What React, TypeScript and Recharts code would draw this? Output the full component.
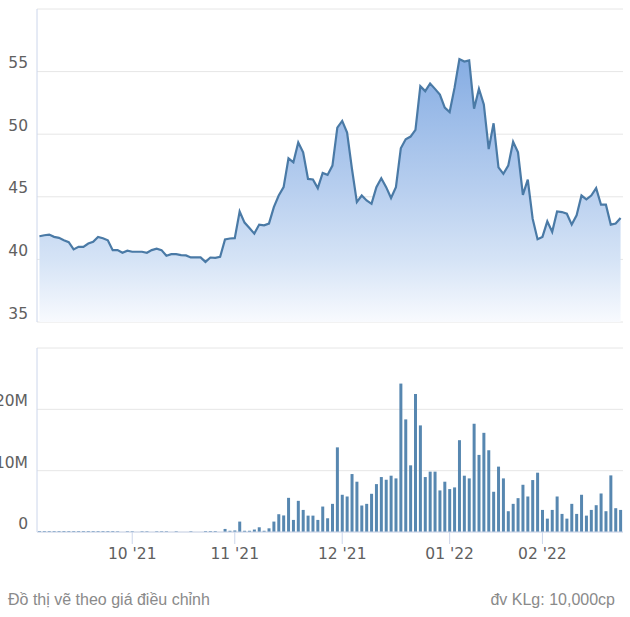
import React from 'react';
import { AreaChart, Area, BarChart, Bar, XAxis, YAxis, CartesianGrid } from 'recharts';

const prices: number[] = [
  41.85, 41.93, 41.98, 41.8, 41.72, 41.53, 41.37, 40.8, 41.0, 41.0,
  41.27, 41.4, 41.8, 41.69, 41.53, 40.74, 40.74, 40.53, 40.69, 40.61,
  40.61, 40.61, 40.53, 40.74, 40.85, 40.74, 40.29, 40.42, 40.42, 40.34,
  40.32, 40.16, 40.16, 40.16, 39.8, 40.15, 40.13, 40.2, 41.59, 41.67,
  41.7, 43.83, 42.94, 42.5, 42.06, 42.78, 42.72, 42.86, 44.18, 45.1,
  45.77, 48.07, 47.75, 49.34, 48.55, 46.43, 46.38, 45.69, 46.9, 46.75,
  47.49, 50.53, 51.06, 50.13, 47.22, 44.58, 45.1, 44.71, 44.44, 45.77,
  46.48, 45.77, 44.9, 45.77, 48.87, 49.6, 49.81, 50.34, 53.83, 53.44,
  54.05, 53.62, 53.17, 52.12, 51.77, 53.7, 56.0, 55.8, 55.9, 52.04,
  53.62, 52.38, 48.81, 50.87, 47.35, 46.83, 47.49, 49.39, 48.55, 45.16,
  46.37, 43.25, 41.61, 41.8, 43.04, 42.2, 43.83, 43.78, 43.65, 42.78,
  43.52, 45.1, 44.79, 45.1, 45.69, 44.37, 44.37, 42.78, 42.86, 43.31,
];

// volume in millions
const volumes: number[] = [
  0.15, 0.15, 0.15, 0.15, 0.15, 0.15, 0.15, 0.15, 0.15, 0.15,
  0.15, 0.15, 0.15, 0.15, 0.15, 0.15, 0.12, 0, 0.12, 0.12,
  0, 0.12, 0.12, 0, 0.12, 0.12, 0.12, 0, 0.12, 0,
  0, 0.12, 0, 0, 0.15, 0.15, 0.15, 0, 0.5, 0.2,
  0.25, 1.7, 0.2, 0.2, 0.4, 0.77, 0.2, 0.6, 1.7, 2.9,
  2.7, 5.57, 1.97, 5.08, 3.6, 2.67, 2.67, 1.97, 4.15, 2.24,
  4.59, 13.8, 6.07, 5.79, 9.45, 8.2, 4.32, 4.59, 6.23, 7.81,
  8.96, 8.52, 9.18, 8.74, 24.2, 18.36, 10.87, 22.5, 17.38, 8.96,
  9.84, 9.84, 6.78, 8.2, 7.0, 7.27, 14.97, 9.18, 8.74, 17.65,
  12.57, 16.17, 13.33, 6.56, 10.66, 8.74, 3.39, 4.59, 5.52, 7.7,
  5.79, 8.47, 9.67, 3.6, 2.18, 3.6, 5.79, 2.95, 2.18, 4.59,
  2.95, 6.07, 2.67, 3.6, 4.37, 6.28, 3.39, 9.23, 3.88, 3.6,
];

const categories: number[] = prices.map((_, i) => i);
const monthTickIdx: number[] = [19, 40, 62, 84, 103];
const monthTickLabels: string[] = ["10 '21", "11 '21", "12 '21", "01 '22", "02 '22"];
const priceTicks: number[] = [35, 40, 45, 50, 55, 60];
const volTicks: number[] = [0, 10, 20, 30];

const data = categories.map((c, i) => ({ idx: c, price: prices[i], vol: volumes[i] }));

const W = 630;
const LEFT = 37;
const RIGHT = 7;
const plotW = W - LEFT - RIGHT;
const pad = plotW / (2 * data.length);

const AXIS_FONT = '"DejaVu Sans", Verdana, sans-serif';
const AXIS_COLOR = '#606060';
const LINE_COLOR = '#ccd6eb';

const PriceTick = (props: any) => {
  const { x, y, payload } = props;
  if (payload.value === 60) return <g />;
  return (
    <text x={x} y={y - 3.5} textAnchor="end" fill={AXIS_COLOR} fontSize={15.5} fontFamily={AXIS_FONT}>
      {String(payload.value)}
    </text>
  );
};

const VolTick = (props: any) => {
  const { x, y, payload } = props;
  if (payload.value === 30) return <g />;
  const label = payload.value === 0 ? '0' : `${payload.value}M`;
  return (
    <text x={x} y={y - 3} textAnchor="end" fill={AXIS_COLOR} fontSize={15.5} fontFamily={AXIS_FONT}>
      {label}
    </text>
  );
};

const MonthTick = (props: any) => {
  const { x, y, payload } = props;
  const k = monthTickIdx.indexOf(payload.value);
  return (
    <text x={x} y={y} dy={11} textAnchor="middle" fill={AXIS_COLOR} fontSize={15.5} fontFamily={AXIS_FONT}>
      {k >= 0 ? monthTickLabels[k] : ''}
    </text>
  );
};

export default function App() {
  return (
    <div style={{ position: 'absolute', left: 0, top: 0, width: 630, height: 617, background: '#fff', overflow: 'hidden' }}>
      <div style={{ position: 'absolute', left: 0, top: 0 }}>
        <AreaChart width={630} height={330} data={data} margin={{ top: 9, right: RIGHT, bottom: 8, left: 0 }}>
          <defs>
            <linearGradient id="priceFill" x1="0" y1="0" x2="0" y2="1">
              <stop offset="0%" stopColor="#86ade3" />
              <stop offset="50%" stopColor="#b8cfef" />
              <stop offset="77%" stopColor="#d6e4f6" />
              <stop offset="100%" stopColor="#f8fafe" />
            </linearGradient>
          </defs>
          <CartesianGrid vertical={false} stroke="#e6e6e6" />
          <XAxis dataKey="idx" hide padding={{ left: pad, right: pad }} />
          <YAxis
            domain={[35, 60]}
            ticks={priceTicks}
            interval={0}
            width={LEFT}
            tickSize={0}
            tickMargin={9}
            tickLine={false}
            axisLine={{ stroke: LINE_COLOR }}
            tick={<PriceTick />}
            allowDataOverflow
          />
          <Area
            type="linear"
            dataKey="price"
            stroke="#4a7aa6"
            strokeWidth={2.2}
            fill="url(#priceFill)"
            fillOpacity={1}
            dot={false}
            activeDot={false}
            isAnimationActive={false}
          />
        </AreaChart>
      </div>
      <div style={{ position: 'absolute', left: 0, top: 340 }}>
        <BarChart width={630} height={240} data={data} margin={{ top: 8, right: RIGHT, bottom: 0, left: 0 }} barCategoryGap={0}>
          <CartesianGrid vertical={false} stroke="#e6e6e6" />
          <XAxis
            dataKey="idx"
            ticks={monthTickIdx}
            interval={0}
            height={48}
            tickSize={12}
            tickMargin={4}
            tickLine={{ stroke: LINE_COLOR }}
            axisLine={{ stroke: LINE_COLOR }}
            tick={<MonthTick />}
          />
          <YAxis
            domain={[0, 30]}
            ticks={volTicks}
            interval={0}
            width={LEFT}
            tickSize={0}
            tickMargin={9}
            tickLine={false}
            axisLine={{ stroke: LINE_COLOR }}
            tick={<VolTick />}
            allowDataOverflow
          />
          <Bar dataKey="vol" fill="#5787b0" barSize={3} isAnimationActive={false} />
        </BarChart>
      </div>
      <div style={{ position: 'absolute', left: 8, top: 590, fontFamily: '"Liberation Sans", Arial, sans-serif', fontSize: 16, lineHeight: '20px', color: '#8a8a8a', whiteSpace: 'nowrap' }}>
        Đồ thị vẽ theo giá điều chỉnh
      </div>
      <div style={{ position: 'absolute', right: 15, top: 590, fontFamily: '"Liberation Sans", Arial, sans-serif', fontSize: 16, lineHeight: '20px', color: '#8a8a8a', whiteSpace: 'nowrap' }}>
        đv KLg: 10,000cp
      </div>
    </div>
  );
}
